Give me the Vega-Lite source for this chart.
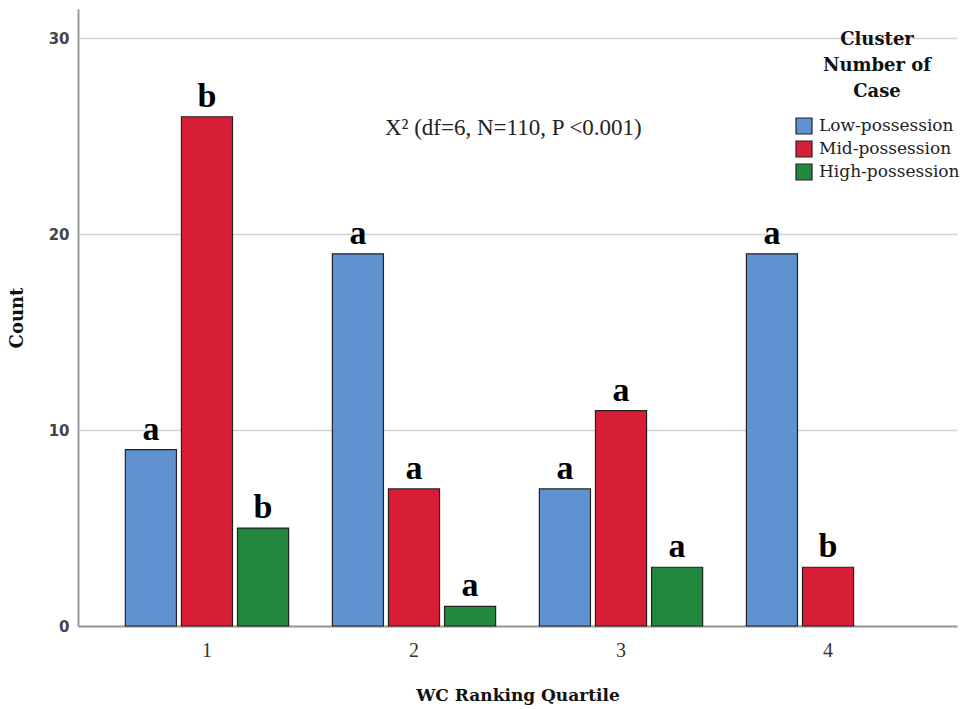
{
  "$schema": "https://vega.github.io/schema/vega-lite/v6.json",
  "autosize": {"type": "none"},
  "padding": {"left": 78, "top": 9, "right": 11, "bottom": 83},
  "width": 879,
  "height": 617,
  "config": {
    "view": {"stroke": null},
    "background": "white"
  },
  "datasets": {
    "bars": [
      {"quartile": "1", "cluster": "Low-possession", "count": 9, "letter": "a"},
      {"quartile": "1", "cluster": "Mid-possession", "count": 26, "letter": "b"},
      {"quartile": "1", "cluster": "High-possession", "count": 5, "letter": "b"},
      {"quartile": "2", "cluster": "Low-possession", "count": 19, "letter": "a"},
      {"quartile": "2", "cluster": "Mid-possession", "count": 7, "letter": "a"},
      {"quartile": "2", "cluster": "High-possession", "count": 1, "letter": "a"},
      {"quartile": "3", "cluster": "Low-possession", "count": 7, "letter": "a"},
      {"quartile": "3", "cluster": "Mid-possession", "count": 11, "letter": "a"},
      {"quartile": "3", "cluster": "High-possession", "count": 3, "letter": "a"},
      {"quartile": "4", "cluster": "Low-possession", "count": 19, "letter": "a"},
      {"quartile": "4", "cluster": "Mid-possession", "count": 3, "letter": "b"}
    ],
    "note": [{"label": "X² (df=6, N=110, P <0.001)"}]
  },
  "layer": [
    {
      "data": {"name": "bars"},
      "mark": {"type": "bar", "stroke": "#222222", "strokeWidth": 1.2},
      "encoding": {
        "x": {
          "field": "quartile", "type": "nominal",
          "scale": {"domain": ["1", "2", "3", "4"], "paddingInner": 0, "paddingOuter": 0.123},
          "axis": {
            "title": "WC Ranking Quartile",
            "titleFont": "DejaVu Serif", "titleFontSize": 17, "titleFontWeight": "bold", "titleColor": "#111111",
            "titlePadding": 27,
            "labelAngle": 0, "labelFont": "Liberation Serif", "labelFontSize": 20, "labelColor": "#333333",
            "labelPadding": 14, "ticks": false,
            "domainColor": "#999999", "domainWidth": 2
          }
        },
        "xOffset": {
          "field": "cluster", "type": "nominal",
          "scale": {"domain": ["Low-possession", "Mid-possession", "High-possession"], "paddingInner": 0.089, "paddingOuter": 0.39}
        },
        "y": {
          "field": "count", "type": "quantitative",
          "scale": {"domain": [0, 31.5], "nice": false},
          "axis": {
            "title": "Count",
            "titleFont": "DejaVu Serif", "titleFontSize": 18, "titleFontWeight": "bold", "titleColor": "#111111",
            "titlePadding": 22,
            "values": [0, 10, 20, 30],
            "labelFont": "DejaVu Sans", "labelFontSize": 15, "labelFontWeight": "bold", "labelColor": "#444444",
            "labelPadding": 9, "ticks": false,
            "domainColor": "#999999", "domainWidth": 2,
            "grid": true, "gridColor": "#d2d2d2", "gridWidth": 1.5
          }
        },
        "color": {
          "field": "cluster", "type": "nominal",
          "scale": {"domain": ["Low-possession", "Mid-possession", "High-possession"], "range": ["#5f93cf", "#d81d36", "#228840"]},
          "legend": {
            "title": ["Cluster", "Number of", "Case"],
            "orient": "none", "legendX": 717, "legendY": 22,
            "titleFont": "DejaVu Serif", "titleFontSize": 18, "titleFontWeight": "bold", "titleColor": "#111111",
            "titleLineHeight": 26, "titleAlign": "center", "titleAnchor": "middle", "titlePadding": 16,
            "labelFont": "DejaVu Serif", "labelFontSize": 17, "labelColor": "#222222", "labelOffset": 6,
            "symbolType": "square", "symbolSize": 256, "symbolStrokeColor": "#222222", "symbolStrokeWidth": 1.2,
            "symbolOpacity": 1, "rowPadding": 1
          }
        }
      }
    },
    {
      "data": {"name": "bars"},
      "mark": {"type": "text", "font": "Liberation Serif", "fontSize": 34, "fontWeight": "bold", "baseline": "bottom", "dy": -3, "color": "#000000"},
      "encoding": {
        "x": {"field": "quartile", "type": "nominal"},
        "xOffset": {"field": "cluster", "type": "nominal"},
        "y": {"field": "count", "type": "quantitative"},
        "text": {"field": "letter"}
      }
    },
    {
      "data": {"name": "note"},
      "mark": {"type": "text", "font": "Liberation Serif", "fontSize": 23, "baseline": "middle", "align": "center", "color": "#222222"},
      "encoding": {
        "x": {"datum": "2", "bandPosition": 0.98},
        "y": {"datum": 25.4},
        "text": {"field": "label"}
      }
    }
  ]
}
